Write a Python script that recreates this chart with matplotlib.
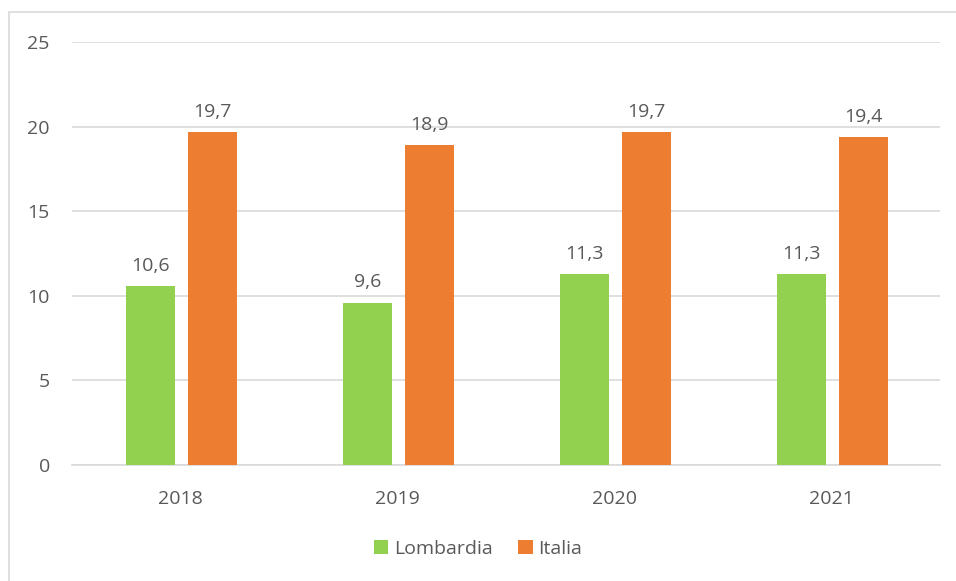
import matplotlib.pyplot as plt
import matplotlib.patches as mpatches
import numpy as np

# Data
years = ['2018', '2019', '2020', '2021']
lombardia = [10.6, 9.6, 11.3, 11.3]
italia = [19.7, 18.9, 19.7, 19.4]

green = '#92D050'
orange = '#ED7D31'
text_col = '#595959'
grid_col = '#D9D9D9'

plt.rcParams['font.family'] = ['Open Sans', 'DejaVu Sans']
fs = 14

fig = plt.figure(figsize=(9.56, 5.81), dpi=100)
ax = fig.add_axes([0.0753, 0.1997, 0.908, 0.7280])

x = np.arange(len(years))
w = 0.225
b1 = ax.bar(x - 0.137, lombardia, w, color=green, label='Lombardia', zorder=3)
b2 = ax.bar(x + 0.148, italia, w, color=orange, label='Italia', zorder=3)

for bars, vals in [(b1, lombardia), (b2, italia)]:
    for bar, v in zip(bars, vals):
        ax.annotate(f'{v:.1f}'.replace('.', ','),
                    (bar.get_x() + bar.get_width() / 2, bar.get_height()),
                    xytext=(0, 8), textcoords='offset points',
                    ha='center', va='bottom', fontsize=fs, color=text_col)

ax.set_xlim(-0.5, 3.5)
ax.set_ylim(0, 25)
ax.set_yticks(range(0, 26, 5))
ax.set_xticks(x)
ax.set_xticklabels(years)
ax.yaxis.grid(True, color=grid_col, linewidth=1.2, zorder=0)
for s in ['top', 'right', 'left']:
    ax.spines[s].set_visible(False)
ax.spines['bottom'].set_color(grid_col)
ax.spines['bottom'].set_linewidth(1.2)
ax.tick_params(axis='both', length=0, labelsize=fs, labelcolor=text_col)
ax.tick_params(axis='y', pad=16)
ax.tick_params(axis='x', pad=18)

fig.legend(handles=[b1, b2], loc='center', bbox_to_anchor=(0.5, 0.055),
           ncol=2, frameon=False, fontsize=fs, labelcolor=text_col,
           handlelength=0.75, handleheight=0.75, handletextpad=0.3,
           columnspacing=1.3)

# Outer chart frame
fig.patches.append(mpatches.Rectangle((9 / 956, -0.01), 1.0, 1 - 12 / 581 + 0.01,
                                      transform=fig.transFigure, fill=False,
                                      edgecolor=grid_col, linewidth=1.2))

fig.savefig('out.png', dpi=100)
